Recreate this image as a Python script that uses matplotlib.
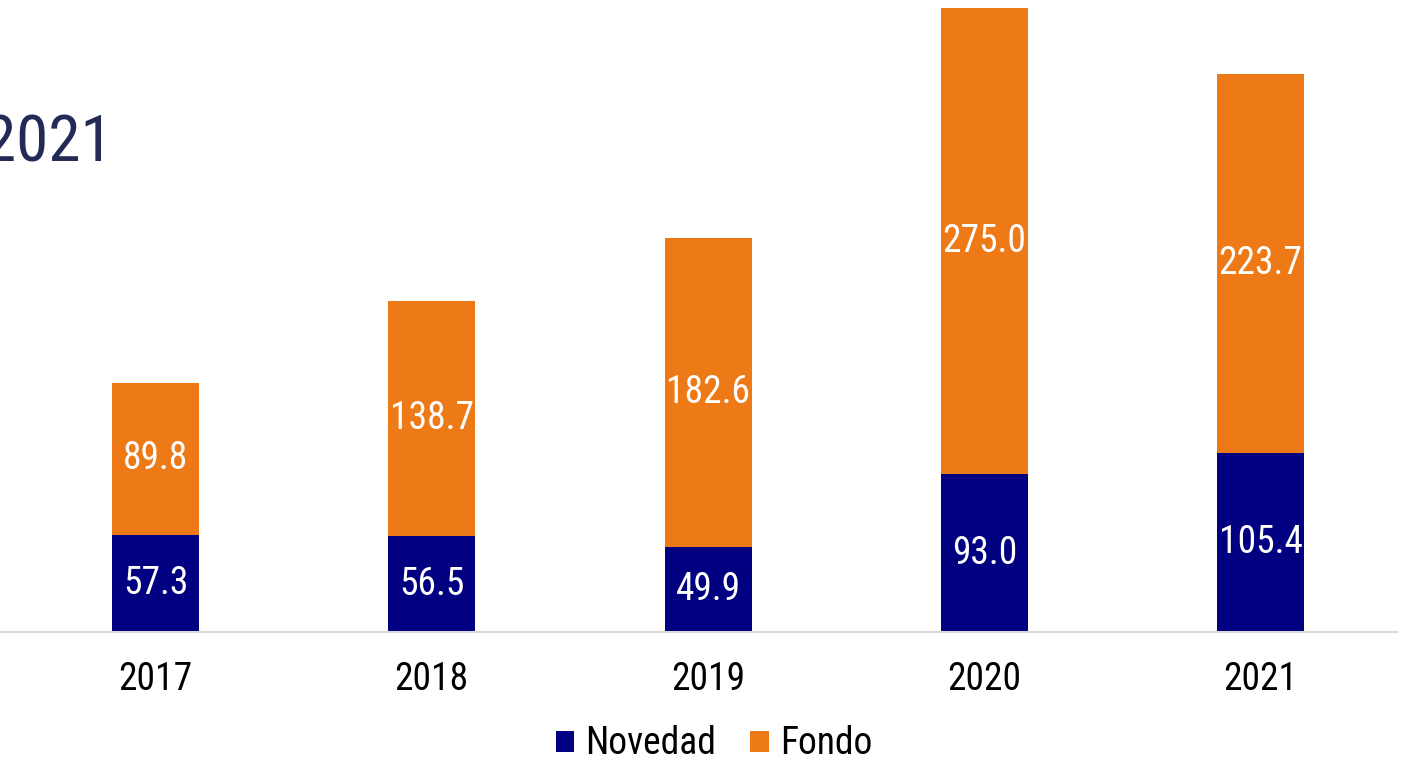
import matplotlib
matplotlib.use("Agg")
import numpy as np
import matplotlib.pyplot as plt

plt.rcParams['font.family'] = ['Roboto Condensed', 'Liberation Sans', 'DejaVu Sans']

years = ['2017', '2018', '2019', '2020', '2021']
novedad = [57.3, 56.5, 49.9, 93.0, 105.4]
fondo = [89.8, 138.7, 182.6, 275.0, 223.7]

navy = '#000080'
orange = '#EE7917'

fig = plt.figure(figsize=(14.03, 7.61), dpi=100)
ax = fig.add_axes([0, 0.1695, 1397 / 1403, 0.8305])

x = np.arange(len(years))
w = 0.315
b1 = ax.bar(x, novedad, w, color=navy, label='Novedad')
b2 = ax.bar(x, fondo, w, bottom=novedad, color=orange, label='Fondo')

# value labels centred in each segment
for i in range(len(years)):
    ax.text(x[i], novedad[i] / 2, '%.1f' % novedad[i], ha='center', va='center',
            color='white', fontsize=27)
    ax.text(x[i], novedad[i] + fondo[i] / 2, '%.1f' % fondo[i], ha='center', va='center',
            color='white', fontsize=27)

ax.set_xlim(-0.563, 4.494)
ax.set_ylim(0, 373)
ax.set_xticks(x)
ax.set_xticklabels(years, fontsize=27)
ax.tick_params(axis='x', length=0, pad=21)
ax.set_yticks([])
for s in ['top', 'right', 'left']:
    ax.spines[s].set_visible(False)
ax.spines['bottom'].set_color('#d9d9d9')
ax.spines['bottom'].set_linewidth(1.5)

fig.legend(handles=[b1, b2], loc='center', bbox_to_anchor=(714 / 1403, 1 - 744 / 761),
           ncol=2, frameon=False, fontsize=27, handlelength=0.5, handleheight=0.5,
           handletextpad=0.3, columnspacing=0.9)

fig.text(113 / 1403, 1 - 143 / 761, '2021', ha='right', va='center',
         fontsize=47, color='#222a55')

fig.savefig('out.png', dpi=100)
